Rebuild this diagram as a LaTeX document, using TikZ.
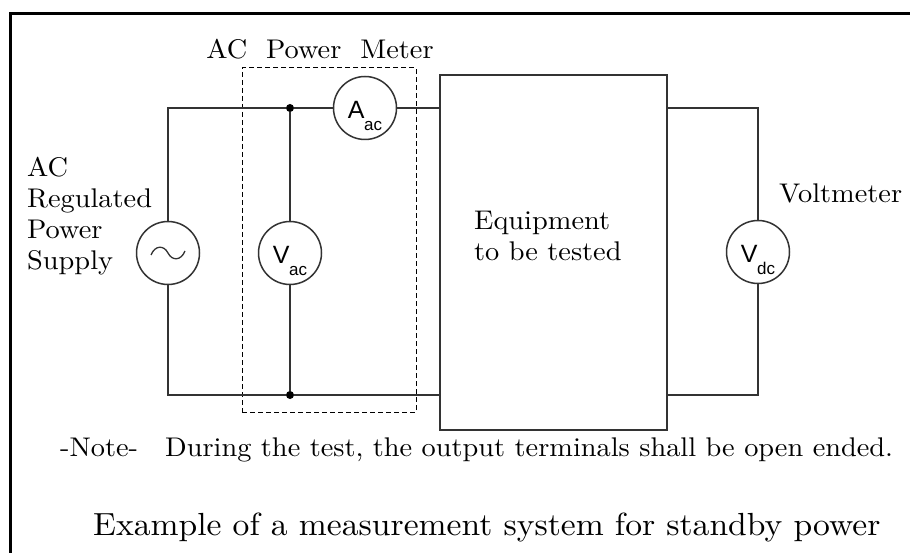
\documentclass[tikz,border=0pt]{standalone}
\usepackage{fontspec}
\newfontfamily\metfont{Liberation Sans}
\newfontfamily\txtfont{lmroman10-regular.otf}[FakeStretch=1.05]
\usetikzlibrary{positioning}
\colorlet{wirex}{black!80}
\newcommand{\meterlbl}[2]{{\metfont\fontsize{25}{25}\selectfont #1\kern-0.5pt\raisebox{-0.45em}{\fontsize{17}{17}\selectfont #2}}}

\begin{document}
\begin{tikzpicture}[x=1pt,y=-1pt,
    wire/.style={draw=wirex,line width=1.5pt},
    meter/.style={circle,draw=wirex,line width=1.5pt,minimum size=63pt,inner sep=0pt},
    lbl/.style={font=\txtfont\fontsize{27}{31}\selectfont,inner sep=0pt,align=left},
    dot/.style={circle,fill=black,inner sep=0pt,minimum size=8pt}
]
    \useasboundingbox (0,0) rectangle (910,553);
    % frame
    \draw[line width=3pt] (10,560) -- (10,14) -- (920,14);

    % parts
    \node[meter] (src) at (168,253) {};
    \draw[wirex,line width=1.3pt,shift={(src)}] (-17,2) .. controls (-13,-8) and (-4,-8) .. (0,0) .. controls (4,8) and (13,8) .. (17,-2);
    \node[meter] (vac) at (290,253) {};
    \node[meter] (aac) at (365,108) {};
    \node[meter] (vdc) at (758,252) {};
    \node[anchor=center] at ([yshift=-8pt]vac.center) {\meterlbl{V}{ac}};
    \node[anchor=center] at ([yshift=-8pt]aac.center) {\meterlbl{A}{ac}};
    \node[anchor=center] at ([yshift=-8pt]vdc.center) {\meterlbl{V}{dc}};
    \node[draw=wirex,line width=1.5pt,minimum width=227pt,minimum height=355pt,inner sep=0pt] (eut) at (553.5,252.5) {};
    \node[draw,dashed,line width=1pt,dash pattern=on 5pt off 3pt,minimum width=174pt,minimum height=344pt,inner sep=0pt] (pmbox) at (329,240) {};

    % junctions
    \node[dot] (j1) at (290,108) {};
    \node[dot] (j2) at (290,395) {};

    % wiring
    \draw[wire] (src.north) |- (j1) -- (aac.west);
    \draw[wire] (aac.east) -- (eut.west |- j1);
    \draw[wire] (src.south) |- (j2) -- (eut.west |- j2);
    \draw[wire] (j1) -- (vac.north);
    \draw[wire] (vac.south) -- (j2);
    \draw[wire] (eut.east |- j1) -| (vdc.north);
    \draw[wire] (vdc.south) |- (eut.east |- j2);

    % labels
    \node[lbl,anchor=base] (pmlbl) at (320,59) {AC\ \ Power\ \ Meter};
    \node[lbl,anchor=north west] (srclbl) at (27,157) {AC\\Regulated\\Power\\Supply};
    \node[lbl,anchor=north west] (eutlbl) at (474,211) {Equipment\\to be tested};
    \node[lbl,anchor=base west] (vdclbl) at (779,203) {Voltmeter};
    \node[lbl,anchor=base west] (notelbl) at (60,456) {-Note-};
    \node[lbl,anchor=base west] (notetxt) at (165,456) {During the test, the output terminals shall be open ended.};
    \node[lbl,anchor=base west,font=\txtfont\fontsize{32}{38}\selectfont] (caption) at (93,535) {Example of a measurement system for standby power};
\end{tikzpicture}
\end{document}
